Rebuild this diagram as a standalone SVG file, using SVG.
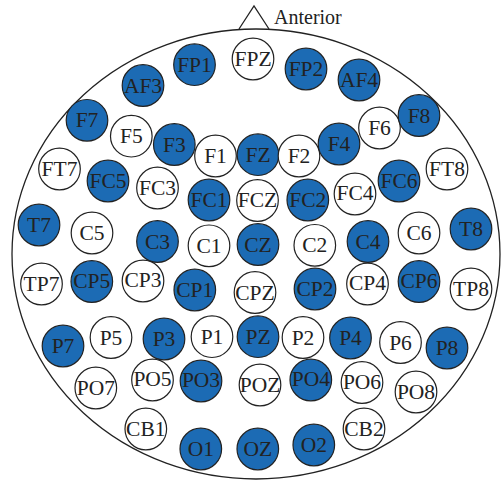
<svg xmlns="http://www.w3.org/2000/svg" width="504" height="481" viewBox="0 0 504 481">
<style>
.e circle{stroke:#222;stroke-width:1.2}
.f circle{fill:#1c6bb4}
.w circle{fill:#fff}
text{font-family:"Liberation Serif","Times New Roman",serif;font-size:21.5px;fill:#222;text-anchor:middle}
.head{fill:none;stroke:#222;stroke-width:1.3}
</style>
<rect width="504" height="481" fill="#fff"/>
<g id="head">
<ellipse class="head" cx="256" cy="254" rx="244" ry="225"/>
<polyline class="head" points="239,29 254,6 269,29"/>
<text x="274" y="24" style="text-anchor:start;font-size:20px">Anterior</text>
</g>
<g id="connectors"/>
<g id="FP1" class="e f"><circle cx="194.5" cy="64.7" r="20.8"/><text x="194.5" y="71.7">FP1</text></g>
<g id="FPZ" class="e w"><circle cx="253" cy="59" r="20.8"/><text x="253" y="66">FPZ</text></g>
<g id="FP2" class="e f"><circle cx="306" cy="69" r="20.8"/><text x="306" y="76">FP2</text></g>
<g id="AF3" class="e f"><circle cx="143" cy="85.5" r="20.8"/><text x="143" y="92.5">AF3</text></g>
<g id="AF4" class="e f"><circle cx="359" cy="80" r="20.8"/><text x="359" y="87">AF4</text></g>
<g id="F7" class="e f"><circle cx="87" cy="120.3" r="20.8"/><text x="87" y="127.3">F7</text></g>
<g id="F5" class="e w"><circle cx="131.3" cy="136.2" r="20.8"/><text x="131.3" y="143.2">F5</text></g>
<g id="F3" class="e f"><circle cx="174.3" cy="144.5" r="20.8"/><text x="174.3" y="151.5">F3</text></g>
<g id="F1" class="e w"><circle cx="215.5" cy="156" r="20.8"/><text x="215.5" y="163">F1</text></g>
<g id="FZ" class="e f"><circle cx="258" cy="154.7" r="20.8"/><text x="258" y="161.7">FZ</text></g>
<g id="F2" class="e w"><circle cx="299" cy="156" r="20.8"/><text x="299" y="163">F2</text></g>
<g id="F4" class="e f"><circle cx="339" cy="144" r="20.8"/><text x="339" y="151">F4</text></g>
<g id="F6" class="e w"><circle cx="379.5" cy="128" r="20.8"/><text x="379.5" y="135">F6</text></g>
<g id="F8" class="e f"><circle cx="419" cy="115.5" r="20.8"/><text x="419" y="122.5">F8</text></g>
<g id="FT7" class="e w"><circle cx="59.5" cy="169" r="20.8"/><text x="59.5" y="176">FT7</text></g>
<g id="FC5" class="e f"><circle cx="108" cy="181" r="20.8"/><text x="108" y="188">FC5</text></g>
<g id="FC3" class="e w"><circle cx="157.5" cy="188" r="20.8"/><text x="157.5" y="195">FC3</text></g>
<g id="FC1" class="e f"><circle cx="209" cy="200" r="20.8"/><text x="209" y="207">FC1</text></g>
<g id="FCZ" class="e w"><circle cx="257.5" cy="200.5" r="20.8"/><text x="257.5" y="206.5">FCZ</text></g>
<g id="FC2" class="e f"><circle cx="307.8" cy="200" r="20.8"/><text x="307.8" y="207">FC2</text></g>
<g id="FC4" class="e w"><circle cx="355" cy="194" r="20.8"/><text x="355" y="200">FC4</text></g>
<g id="FC6" class="e f"><circle cx="399" cy="181" r="20.8"/><text x="399" y="188">FC6</text></g>
<g id="FT8" class="e w"><circle cx="447" cy="169" r="20.8"/><text x="447" y="176">FT8</text></g>
<g id="T7" class="e f"><circle cx="39" cy="225" r="20.8"/><text x="39" y="232">T7</text></g>
<g id="C5" class="e w"><circle cx="92" cy="233" r="20.8"/><text x="92" y="240">C5</text></g>
<g id="C3" class="e f"><circle cx="157.5" cy="241.5" r="20.8"/><text x="157.5" y="248.5">C3</text></g>
<g id="C1" class="e w"><circle cx="209" cy="245.8" r="20.8"/><text x="209" y="252.8">C1</text></g>
<g id="CZ" class="e f"><circle cx="258" cy="244.5" r="20.8"/><text x="258" y="251.5">CZ</text></g>
<g id="C2" class="e w"><circle cx="314.8" cy="245.3" r="20.8"/><text x="314.8" y="252.3">C2</text></g>
<g id="C4" class="e f"><circle cx="368" cy="241.5" r="20.8"/><text x="368" y="248.5">C4</text></g>
<g id="C6" class="e w"><circle cx="419" cy="233" r="20.8"/><text x="419" y="240">C6</text></g>
<g id="T8" class="e f"><circle cx="471" cy="229" r="20.8"/><text x="471" y="236">T8</text></g>
<g id="TP7" class="e w"><circle cx="41.5" cy="284" r="20.8"/><text x="41.5" y="291">TP7</text></g>
<g id="CP5" class="e f"><circle cx="91.8" cy="281.5" r="20.8"/><text x="91.8" y="287.5">CP5</text></g>
<g id="CP3" class="e w"><circle cx="143" cy="281" r="20.8"/><text x="143" y="287">CP3</text></g>
<g id="CP1" class="e f"><circle cx="194.8" cy="290" r="20.8"/><text x="194.8" y="297">CP1</text></g>
<g id="CPZ" class="e w"><circle cx="255" cy="292.5" r="20.8"/><text x="255" y="299.5">CPZ</text></g>
<g id="CP2" class="e f"><circle cx="315" cy="289" r="20.8"/><text x="315" y="296">CP2</text></g>
<g id="CP4" class="e w"><circle cx="367.5" cy="284" r="20.8"/><text x="367.5" y="290">CP4</text></g>
<g id="CP6" class="e f"><circle cx="419" cy="281.5" r="20.8"/><text x="419" y="287.5">CP6</text></g>
<g id="TP8" class="e w"><circle cx="471" cy="289" r="20.8"/><text x="471" y="296">TP8</text></g>
<g id="P7" class="e f"><circle cx="63" cy="346" r="20.8"/><text x="63" y="353">P7</text></g>
<g id="P5" class="e w"><circle cx="111" cy="337.5" r="20.8"/><text x="111" y="344.5">P5</text></g>
<g id="P3" class="e f"><circle cx="164" cy="339" r="20.8"/><text x="164" y="346">P3</text></g>
<g id="P1" class="e w"><circle cx="212" cy="336.7" r="20.8"/><text x="212" y="343.7">P1</text></g>
<g id="PZ" class="e f"><circle cx="258" cy="336.7" r="20.8"/><text x="258" y="343.7">PZ</text></g>
<g id="P2" class="e w"><circle cx="303" cy="337.5" r="20.8"/><text x="303" y="344.5">P2</text></g>
<g id="P4" class="e f"><circle cx="350.5" cy="338" r="20.8"/><text x="350.5" y="345">P4</text></g>
<g id="P6" class="e w"><circle cx="400.5" cy="342.5" r="20.8"/><text x="400.5" y="349.5">P6</text></g>
<g id="P8" class="e f"><circle cx="447" cy="348" r="20.8"/><text x="447" y="355">P8</text></g>
<g id="PO7" class="e w"><circle cx="95.8" cy="388" r="20.8"/><text x="95.8" y="395">PO7</text></g>
<g id="PO5" class="e w"><circle cx="152.5" cy="380" r="20.8"/><text x="152.5" y="386">PO5</text></g>
<g id="PO3" class="e f"><circle cx="201" cy="381" r="20.8"/><text x="201" y="387">PO3</text></g>
<g id="POZ" class="e w"><circle cx="260" cy="385" r="20.8"/><text x="260" y="392">POZ</text></g>
<g id="PO4" class="e f"><circle cx="310.8" cy="380" r="20.8"/><text x="310.8" y="386">PO4</text></g>
<g id="PO6" class="e w"><circle cx="362" cy="382.5" r="20.8"/><text x="362" y="389">PO6</text></g>
<g id="PO8" class="e w"><circle cx="416" cy="392" r="20.8"/><text x="416" y="399">PO8</text></g>
<g id="CB1" class="e w"><circle cx="145.8" cy="429" r="20.8"/><text x="145.8" y="436">CB1</text></g>
<g id="O1" class="e f"><circle cx="200.8" cy="449" r="20.8"/><text x="200.8" y="456">O1</text></g>
<g id="OZ" class="e f"><circle cx="257.8" cy="449" r="20.8"/><text x="257.8" y="456">OZ</text></g>
<g id="O2" class="e f"><circle cx="313.8" cy="445" r="20.8"/><text x="313.8" y="451.5">O2</text></g>
<g id="CB2" class="e w"><circle cx="364" cy="429" r="20.8"/><text x="364" y="435.5">CB2</text></g>
</svg>
